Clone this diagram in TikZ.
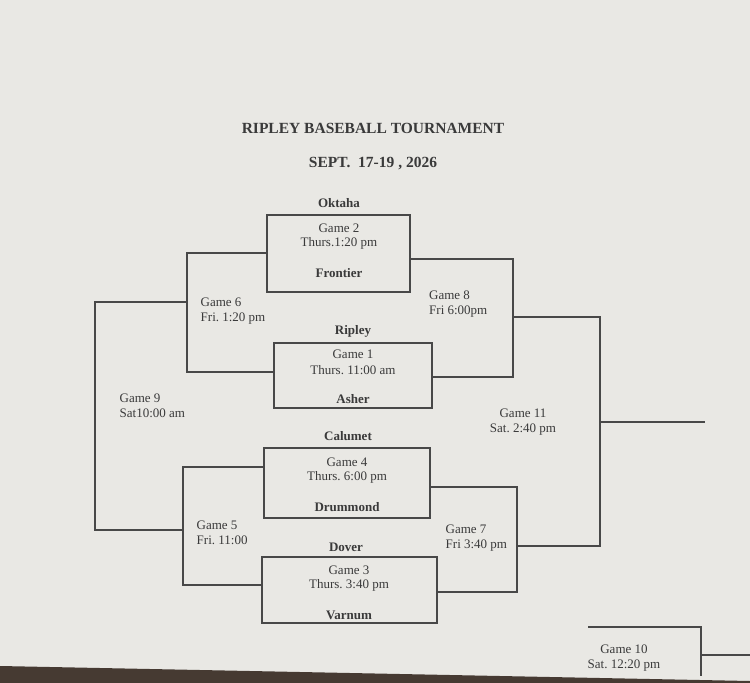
\documentclass[tikz,border=0pt]{standalone}
\usepackage{fontspec}
\setmainfont{Liberation Serif}
\definecolor{paper}{RGB}{233,232,228}
\definecolor{ink}{RGB}{58,58,58}
\definecolor{rule}{RGB}{72,72,72}
\definecolor{wood}{RGB}{70,58,50}
\frenchspacing
\begin{document}
\begin{tikzpicture}[x=1pt,y=-1pt,
  gamebox/.style={draw=rule,line width=1.1pt,rectangle,inner sep=0pt},
  lbl/.style={inner sep=0pt,text=ink,font=\fontsize{13}{15}\selectfont,align=left},
  clbl/.style={inner sep=0pt,text=ink,font=\fontsize{13}{15}\selectfont,align=center},
  team/.style={inner sep=0pt,text=ink,font=\fontsize{13}{15}\selectfont\bfseries},
  ttl/.style={inner sep=0pt,text=ink,font=\fontsize{15.5}{18}\selectfont\bfseries},
  wire/.style={draw=rule,line width=1.1pt}]
\fill[paper] (0,0) rectangle (750,683);
\useasboundingbox (0,0) rectangle (750,683);
\fill[wood] (0,666) -- (750,681) -- (750,683) -- (0,683) -- cycle;

% titles
\node[ttl] (title) at (373,128) {RIPLEY BASEBALL TOURNAMENT};
\node[ttl] (date) at (373,164) {SEPT.\ \ 17-19 , 2026};

% game boxes
\node[gamebox,minimum width=143pt,minimum height=77pt] (g2) at (338.5,253.5) {};
\node[gamebox,minimum width=158pt,minimum height=65pt] (g1) at (353,375.5) {};
\node[gamebox,minimum width=166pt,minimum height=70pt] (g4) at (347,483) {};
\node[gamebox,minimum width=175pt,minimum height=66pt] (g3) at (349.5,590) {};

% texts in/around boxes
\node[team] (oktaha) at (339,203) {Oktaha};
\node[clbl] (g2a) at (339,228) {Game 2};
\node[clbl] (g2b) at (339,243) {Thurs.1:20 pm};
\node[team] (frontier) at (339,273) {Frontier};

\node[team] (ripley) at (353,331) {Ripley};
\node[clbl] (g1a) at (353,354) {Game 1};
\node[clbl] (g1b) at (353,370) {Thurs. 11:00 am};
\node[team] (asher) at (353,399) {Asher};

\node[team] (calumet) at (348,436) {Calumet};
\node[clbl] (g4a) at (347,462) {Game 4};
\node[clbl] (g4b) at (347,477) {Thurs. 6:00 pm};
\node[team] (drummond) at (347,507) {Drummond};

\node[team] (dover) at (346,547) {Dover};
\node[clbl] (g3a) at (349,570) {Game 3};
\node[clbl] (g3b) at (349,585) {Thurs. 3:40 pm};
\node[team] (varnum) at (349,615) {Varnum};

% bracket corners
\coordinate (c6a) at (187,253);
\coordinate (c6b) at (187,372);
\coordinate (c6m) at (187,302);
\coordinate (c8a) at (513,259);
\coordinate (c8b) at (513,377);
\coordinate (c8m) at (513,317);
\coordinate (c5a) at (183,467);
\coordinate (c5b) at (183,585);
\coordinate (c5m) at (183,530);
\coordinate (c7a) at (517,487);
\coordinate (c7b) at (517,592);
\coordinate (c7m) at (517,546);
\coordinate (c9a) at (95,302);
\coordinate (c9b) at (95,530);
\coordinate (c11a) at (600,317);
\coordinate (c11b) at (600,546);
\coordinate (c11m) at (600,422);
\coordinate (c11o) at (705,422);
\coordinate (c10s) at (588,627);
\coordinate (c10a) at (701,627);
\coordinate (c10b) at (701,676);
\coordinate (c10m) at (701,655);
\coordinate (c10o) at (750,655);

% connectors
\draw[wire] (g2.west |- c6a) -- (c6a) -- (c6b) -- (g1.west |- c6b);
\draw[wire] (g2.east |- c8a) -- (c8a) -- (c8b) -- (g1.east |- c8b);
\draw[wire] (g4.west |- c5a) -- (c5a) -- (c5b) -- (g3.west |- c5b);
\draw[wire] (g4.east |- c7a) -- (c7a) -- (c7b) -- (g3.east |- c7b);
\draw[wire] (c6m) -- (c9a) -- (c9b) -- (c5m);
\draw[wire] (c8m) -- (c11a) -- (c11b) -- (c7m);
\draw[wire] (c11m) -- (c11o);
\draw[wire] (c10s) -- (c10a) -- (c10b);
\draw[wire] (c10m) -- (c10o);

% round labels
\node[lbl,anchor=west] (l6) at (200.5,311) {Game 6\\Fri. 1:20 pm};
\node[lbl,anchor=west] (l8) at (429,304) {Game 8\\Fri 6:00pm};
\node[lbl,anchor=west] (l9) at (119.5,406) {Game 9\\Sat10:00 am};
\node[lbl,anchor=west] (l5) at (196.5,532.5) {Game 5\\Fri. 11:00};
\node[lbl,anchor=west] (l7) at (445.5,538) {Game 7\\Fri 3:40 pm};
\node[clbl] (l11) at (523,422) {Game 11\\Sat. 2:40 pm};
\node[clbl] (l10) at (624,658) {Game 10\\Sat. 12:20 pm};
\end{tikzpicture}
\end{document}
